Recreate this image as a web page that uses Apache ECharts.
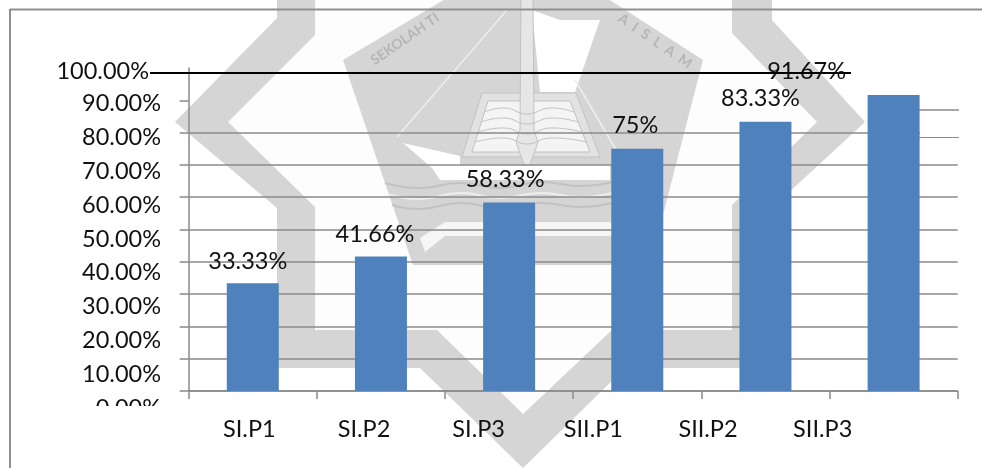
<!DOCTYPE html>
<html>
<head>
<meta charset="utf-8">
<title>Chart</title>
<style>
  html, body { margin: 0; padding: 0; background: #fff; }
  #chart { width: 982px; height: 468px; }
</style>
<script src="https://cdn.jsdelivr.net/npm/echarts@6/dist/echarts.min.js"></script>
</head>
<body>
<div id="chart"></div>
<script>
const categories = ["SI.P1", "SI.P2", "SI.P3", "SII.P1", "SII.P2", "SII.P3"];
const values = [33.33, 41.66, 58.33, 75, 83.33, 91.67];
const valueLabels = ["33.33%", "41.66%", "58.33%", "75%", "83.33%", "91.67%"];
const yTickLabels = ["0.00%", "10.00%", "20.00%", "30.00%", "40.00%", "50.00%", "60.00%", "70.00%", "80.00%", "90.00%", "100.00%"];

const FONT = "Lato";
const FONT_SIZE = 23.5;
const GRID_GREY = "#8a8a8a";
const WM = "#d5d5d5";
const WM_DARK = "#c2c2c2";

// the labels sit off their bars in the original, nudged by hand
const labelNudge = [[-5, -10], [-6, -10], [-4, -11], [-2, -11], [-5, -11], [-87, -11]];

const poly = (points, fill, stroke) => ({
  type: "polygon", z: -10, silent: true,
  shape: { points },
  style: { fill, stroke: stroke || null, lineWidth: stroke ? 1 : 0 },
});
const wave = (points, stroke, lineWidth) => ({
  type: "polyline", z: -9, silent: true,
  shape: { points, smooth: 0.5 },
  style: { stroke, fill: null, lineWidth: lineWidth || 2 },
});
const hline = (x1, x2, y, stroke, lineWidth, z) => ({
  type: "line", z, silent: true,
  shape: { x1, y1: y, x2, y2: y },
  style: { stroke, lineWidth },
});

// faint school emblem behind the chart
const watermark = [
  poly([[277, -5], [277, 18], [175, 122], [277, 208], [277, 368], [420, 368], [523, 468], [625, 368], [772, 368], [772, 208], [865, 122], [772, 20], [772, -5]], WM),
  poly([[315, -5], [315, 35], [228, 122], [315, 207], [315, 330], [437, 330], [523, 414], [612, 330], [732, 330], [732, 205], [817, 122], [732, 33], [732, -5]], "#fdfdfd"),
  poly([[343, 60], [452, -5], [602, -5], [703, 60], [650, 265], [413, 265]], WM),
  poly([[532, 10], [560, 20], [600, 20], [575, 92], [540, 92]], "#ffffff"),
  poly([[403, 143], [460, 156], [460, 165], [610, 165], [610, 180], [440, 180], [432, 168]], "#ffffff"),
  { type: "line", z: -9, silent: true, shape: { x1: 397, y1: 137, x2: 507, y2: 10 }, style: { stroke: "#eeeeee", lineWidth: 1.5 } },
  { type: "line", z: -9, silent: true, shape: { x1: 575, y1: 80, x2: 625, y2: 165 }, style: { stroke: "#eeeeee", lineWidth: 1.5 } },
  poly([[482, 93], [576, 93], [600, 157], [462, 157]], "#e2e2e2", WM_DARK),
  poly([[488, 101], [570, 101], [590, 152], [472, 152]], "#f4f4f4", WM_DARK),
  wave([[484, 112], [505, 108], [527, 114], [550, 108], [574, 112]], WM_DARK, 1),
  wave([[481, 122], [505, 118], [527, 124], [550, 118], [578, 122]], WM_DARK, 1),
  wave([[478, 132], [505, 128], [527, 134], [550, 128], [582, 132]], WM_DARK, 1),
  wave([[475, 142], [505, 138], [527, 144], [550, 138], [586, 142]], WM_DARK, 1),
  poly([[521, -5], [533, -5], [534, 130], [538, 142], [530, 165], [524, 165], [516, 142], [520, 130]], "#e6e6e6", WM_DARK),
  wave([[385, 183], [420, 188], [460, 183], [500, 188], [540, 182], [580, 186], [612, 182]], WM_DARK, 2),
  wave([[388, 194], [420, 199], [460, 193], [500, 198], [540, 193], [580, 197], [612, 193]], "#eeeeee", 2),
  wave([[392, 205], [420, 209], [460, 203], [500, 208], [540, 203], [580, 207], [612, 203]], WM_DARK, 2),
  poly([[420, 238], [445, 222], [610, 222], [632, 247], [610, 236], [445, 236], [425, 252]], "#f6f6f6"),
  {
    type: "text", z: -8, silent: true, x: 405, y: 39, rotation: 0.61,
    style: { text: "SEKOLAH TI", fill: "#b5b5b5", font: "bold 14px " + FONT, align: "center", verticalAlign: "middle" },
  },
  {
    type: "text", z: -8, silent: true, x: 655, y: 41, rotation: -0.6,
    style: { text: "A  I  S  L  A  M", fill: "#b5b5b5", font: "bold 14px " + FONT, align: "center", verticalAlign: "middle" },
  },
];

// frame, stray black rule and the patched gridlines at the right edge
const overlays = [
  { type: "line", z: 1, silent: true, shape: { x1: 10, y1: 9, x2: 10, y2: 468 }, style: { stroke: "#8f8f8f", lineWidth: 2 } },
  hline(10, 982, 9.5, "#8f8f8f", 2, 1),
  hline(150, 851, 73, "#000000", 2, 5),
  { type: "rect", z: 1, silent: true, shape: { x: 920, y: 95, width: 45, height: 42 }, style: { fill: "#ffffff" } },
  hline(919, 959, 110, GRID_GREY, 1.6, 1),
  hline(919, 959, 137.5, GRID_GREY, 1, 1),
  // the 0.00% label is cut off in the original
  { type: "rect", z: 20, silent: true, shape: { x: 80, y: 406, width: 90, height: 16 }, style: { fill: "#ffffff" } },
];

const chart = echarts.init(document.getElementById("chart"), null, { renderer: "canvas" });
chart.setOption({
  animation: false,
  backgroundColor: "#ffffff",
  textStyle: { fontFamily: FONT },
  graphic: { elements: [...watermark, ...overlays] },
  grid: [
    { left: 188.7, top: 68, width: 769, height: 323 },
    // label columns run on a slightly different pitch than the plot
    { left: 192, top: 70, width: 688, height: 338 },
  ],
  xAxis: [
    {
      type: "category", gridIndex: 0, data: categories,
      axisLine: { lineStyle: { color: GRID_GREY, width: 1.5 } },
      axisTick: { show: true, length: 8, lineStyle: { color: GRID_GREY, width: 1.5 } },
      axisLabel: { show: false },
    },
    {
      type: "category", gridIndex: 1, data: categories,
      axisLine: { show: false }, axisTick: { show: false },
      axisLabel: { color: "#111111", fontSize: FONT_SIZE, fontFamily: FONT, margin: 9, interval: 0 },
    },
  ],
  yAxis: [
    {
      type: "value", gridIndex: 0, min: 0, max: 100, interval: 10,
      axisLine: { show: true, lineStyle: { color: GRID_GREY, width: 1.5 } },
      axisTick: { show: true, length: 9, customValues: [0, 10, 20, 30, 40, 50, 60, 70, 80, 90], lineStyle: { color: GRID_GREY, width: 1.5 } },
      axisLabel: { show: false },
      splitLine: { show: true, showMaxLine: false, lineStyle: { color: GRID_GREY, width: 1.5 } },
    },
    {
      type: "value", gridIndex: 1, min: 0, max: 100, interval: 10,
      axisLine: { show: false }, axisTick: { show: false }, splitLine: { show: false },
      axisLabel: {
        color: "#111111", fontSize: FONT_SIZE, fontFamily: FONT, margin: 31,
        formatter: (v) => (v === 100 ? `{top|${yTickLabels[10]}}` : yTickLabels[v / 10]),
        rich: { top: { fontSize: FONT_SIZE, fontFamily: FONT, color: "#111111", padding: [3, 12, 0, 0] } },
      },
    },
  ],
  series: [
    {
      type: "bar", xAxisIndex: 0, yAxisIndex: 0,
      barWidth: 52,
      itemStyle: { color: "#4f81bd" },
      label: {
        show: true, position: "top", distance: 0,
        color: "#111111", fontSize: FONT_SIZE, fontFamily: FONT,
        formatter: (p) => valueLabels[p.dataIndex],
      },
      data: values.map((value, i) => ({ value, label: { offset: labelNudge[i] } })),
    },
  ],
});
window.addEventListener("resize", () => chart.resize());
</script>
</body>
</html>
